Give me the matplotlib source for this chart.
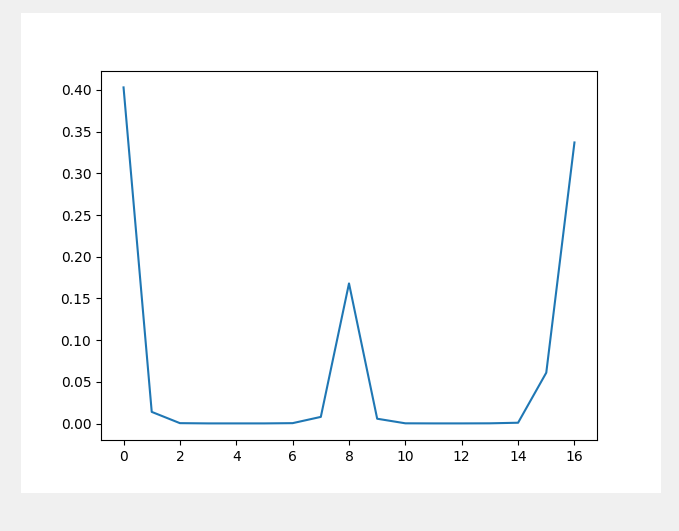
import matplotlib
matplotlib.use("Agg")
import matplotlib.pyplot as plt

x = list(range(17))
y = [0.403, 0.014, 0.0005, 0.0002, 0.0002, 0.0002, 0.0005, 0.008, 0.168,
     0.0058, 0.0003, 0.0002, 0.0002, 0.0003, 0.001, 0.061, 0.337]

W, H = 679, 531
fig = plt.figure(figsize=(W / 100, H / 100), dpi=100, facecolor="#f0f0f0")
# white inner figure area 640x480 at offset (21, 13)
ox, oy, fw, fh = 21, 13, 640, 480
bg = fig.add_axes([ox / W, 1 - (oy + fh) / H, fw / W, fh / H], zorder=-10)
bg.set_facecolor("white")
bg.set_axis_off()
bg.add_patch(plt.Rectangle((0, 0), 1, 1, transform=bg.transAxes,
                           facecolor="white", edgecolor="none"))
left = (ox + 0.125 * fw) / W
right = (ox + 0.9 * fw) / W
top = 1 - (oy + 0.12 * fh) / H
bottom = 1 - (oy + 0.89 * fh) / H
ax = fig.add_axes([left, bottom, right - left, top - bottom])
ax.plot(x, y, color="#1f77b4")
fig.savefig("out.png", dpi=100, facecolor=fig.get_facecolor())
